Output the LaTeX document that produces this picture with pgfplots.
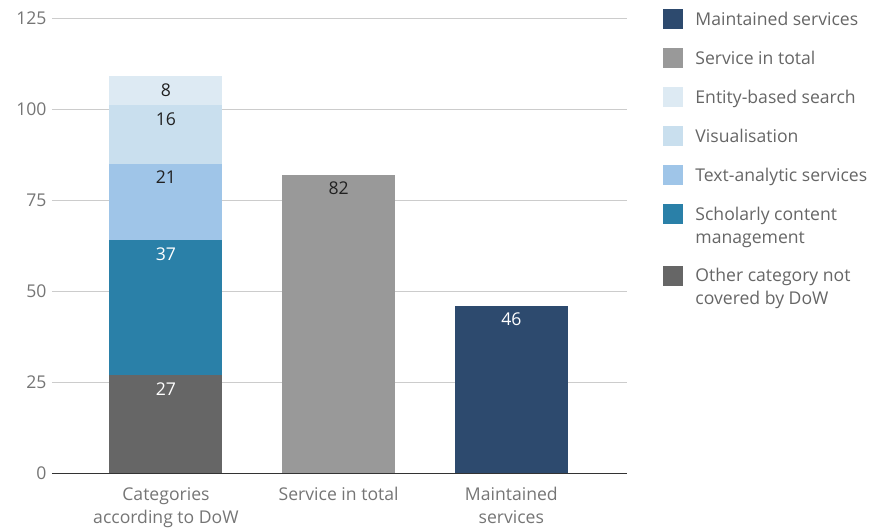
\documentclass[border=0pt]{standalone}
\usepackage{pgfplots}
\pgfplotsset{compat=1.18}
\usepackage{fontspec}
\setmainfont{Open Sans}
\pgfkeys{/pgf/number format/assume math mode=true}
\definecolor{cMaint}{HTML}{2D4A6E}
\definecolor{cTotal}{HTML}{999999}
\definecolor{cEntity}{HTML}{DDEAF3}
\definecolor{cVis}{HTML}{C9DFEE}
\definecolor{cText}{HTML}{9FC5E8}
\definecolor{cSchol}{HTML}{2A80A8}
\definecolor{cOther}{HTML}{666666}
\definecolor{tickgray}{HTML}{757575}
\definecolor{leggray}{HTML}{666666}
\definecolor{gridgray}{HTML}{CCCCCC}
\definecolor{lblblack}{HTML}{212121}
\begin{document}
\begin{tikzpicture}[font=\fontsize{17.6bp}{23bp}\selectfont]
\begin{axis}[
  scale only axis, width=575bp, height=455bp,
  ymin=0, ymax=125, ytick={0,25,50,75,100,125},
  xmin=-0.66, xmax=2.67, xtick={0,1,2},
  xticklabels={{Categories\\according to DoW},{Service in total},{Maintained\\services}},
  x tick label style={align=center, text=tickgray, yshift=-11bp},
  y tick label style={text=tickgray, xshift=-2bp},
  /pgf/number format/assume math mode=true,
  major tick length=0pt,
  axis x line*=bottom, axis y line*=left,
  y axis line style={draw=none},
  x axis line style={draw=black!80, line width=0.9bp},
  ymajorgrids, grid style={gridgray, line width=0.9bp},
  ybar stacked, bar width=113bp,
  point meta=explicit,
  visualization depends on={rawy \as \segh},
  nodes near coords={\pgfmathfloatifflags{\pgfplotspointmeta}{0}{}{\pgfmathprintnumber{\pgfplotspointmeta}}},
  every node near coord/.append style={anchor=center, yshift=\segh*1.82bp-14bp},
  mybar/.style={draw=none, fill=#1,
    legend image code/.code={\fill[fill=#1] (0bp,-10bp) rectangle (20bp,10bp);}},
  mybartwo/.style={draw=none, fill=#1,
    legend image code/.code={\fill[fill=#1] (0bp,1.5bp) rectangle (20bp,21.5bp);}},
  reverse legend,
  legend cell align=left,
  legend style={at={(1.063,1.0196)}, anchor=north west, draw=none, fill=none,
    inner sep=0pt, row sep=19bp, column sep=10bp,
    nodes={text=leggray, align=left, inner sep=2bp}},
]
\addplot[mybartwo=cOther, every node near coord/.append style={text=white}]
  coordinates {(0,27) [27] (1,0) [0] (2,0) [0]};
\addlegendentry{Other category not\\covered by DoW}
\addplot[mybartwo=cSchol, every node near coord/.append style={text=white}]
  coordinates {(0,37) [37] (1,0) [0] (2,0) [0]};
\addlegendentry{Scholarly content\\management}
\addplot[mybar=cText, every node near coord/.append style={text=lblblack}]
  coordinates {(0,21) [21] (1,0) [0] (2,0) [0]};
\addlegendentry{Text-analytic services}
\addplot[mybar=cVis, every node near coord/.append style={text=lblblack}]
  coordinates {(0,16) [16] (1,0) [0] (2,0) [0]};
\addlegendentry{Visualisation}
\addplot[mybar=cEntity, every node near coord/.append style={text=lblblack}]
  coordinates {(0,8) [8] (1,0) [0] (2,0) [0]};
\addlegendentry{Entity-based search}
\addplot[mybar=cTotal, every node near coord/.append style={text=lblblack}]
  coordinates {(0,0) [0] (1,82) [82] (2,0) [0]};
\addlegendentry{Service in total}
\addplot[mybar=cMaint, every node near coord/.append style={text=white}]
  coordinates {(0,0) [0] (1,0) [0] (2,46) [46]};
\addlegendentry{Maintained services}
\end{axis}
\path ([xshift=-52bp,yshift=-56bp]current axis.south west) rectangle ([xshift=252bp,yshift=18bp]current axis.north east);
\end{tikzpicture}
\end{document}
